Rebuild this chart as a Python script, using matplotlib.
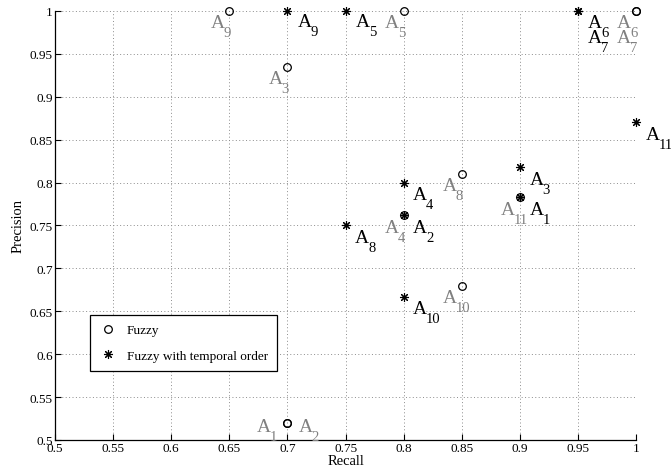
import numpy as np
import matplotlib.pyplot as plt

plt.rcParams['font.family'] = ['Liberation Serif', 'DejaVu Serif']

names = ['A1', 'A2', 'A3', 'A4', 'A5', 'A6', 'A7', 'A8', 'A9', 'A10', 'A11']

fuzzy_recall = [0.7, 0.7, 0.7, 0.8, 0.8, 1.0, 1.0, 0.85, 0.65, 0.85, 0.9]
fuzzy_precision = [0.52, 0.52, 0.935, 0.762, 1.0, 1.0, 1.0, 0.81, 1.0, 0.68, 0.783]

temporal_recall = [0.9, 0.8, 0.9, 0.8, 0.75, 0.95, 0.95, 0.75, 0.7, 0.8, 1.0]
temporal_precision = [0.783, 0.762, 0.818, 0.8, 1.0, 1.0, 1.0, 0.75, 1.0, 0.667, 0.87]

xticks = [0.5, 0.55, 0.6, 0.65, 0.7, 0.75, 0.8, 0.85, 0.9, 0.95, 1]
yticks = [0.5, 0.55, 0.6, 0.65, 0.7, 0.75, 0.8, 0.85, 0.9, 0.95, 1]

fig = plt.figure(figsize=(6.71, 4.77), dpi=100)
ax = fig.add_axes([0.082, 0.0755, 0.866, 0.8995])

star = (8, 2, 0)
ax.plot(fuzzy_recall, fuzzy_precision, 'o', mfc='none', mec='k', ms=5.5, mew=0.9,
        ls='none', label='Fuzzy', clip_on=False, zorder=3)
ax.plot(temporal_recall, temporal_precision, marker=star, color='k', ms=6.5, mew=0.8,
        ls='none', label='Fuzzy with temporal order', clip_on=False, zorder=3)


def label(txt, x, y, dx, dy, color):
    # dx, dy in pixels, dy = top of the A below the point
    k = 0.72
    ax.annotate('A', (x, y), xytext=(dx * k, -(dy + 13) * k), textcoords='offset points',
                ha='left', va='baseline', fontsize=14, color=color, annotation_clip=False)
    ax.annotate(txt[1:], (x, y), xytext=((dx + 13) * k, -(dy + 22) * k),
                textcoords='offset points', ha='left', va='baseline', fontsize=10.5,
                color=color, annotation_clip=False)


# grey labels for the fuzzy points
gray_off = {'A1': (-31, -5), 'A2': (11, -5), 'A7': (-19, 18)}
for n, x, y in zip(names, fuzzy_recall, fuzzy_precision):
    dx, dy = gray_off.get(n, (-19, 3.5))
    label(n, x, y, dx, dy, '0.5')

# black labels for temporal order points
black_off = {'A7': (10, 18), 'A9': (10, 2), 'A5': (10, 2), 'A6': (10, 3)}
for n, x, y in zip(names, temporal_recall, temporal_precision):
    dx, dy = black_off.get(n, (9.5, 3.5))
    label(n, x, y, dx, dy, 'k')

ax.set_xlim(0.5, 1)
ax.set_ylim(0.5, 1)
ax.set_xticks(xticks)
ax.set_yticks(yticks)
ax.set_xticklabels([('%g' % v) for v in xticks])
ax.set_yticklabels([('%g' % v) for v in yticks])
ax.tick_params(direction='in', length=4, width=0.8, labelsize=9.5, pad=1.5)
ax.grid(True, color='0.55', linestyle=(0, (1, 2.5)), linewidth=0.7)
ax.spines['top'].set_visible(False)
ax.spines['right'].set_visible(False)
ax.spines['left'].set_linewidth(0.9)
ax.spines['bottom'].set_linewidth(0.9)

ax.set_xlabel('Recall', fontsize=10.5, labelpad=0)
ax.set_ylabel('Precision', fontsize=10.5, labelpad=4)

leg = ax.legend(loc='lower left', bbox_to_anchor=(0.06, 0.161), fontsize=9.5,
                fancybox=False, edgecolor='k', framealpha=1, borderpad=0.7,
                labelspacing=1.0, handletextpad=0.75, handlelength=1.35,
                borderaxespad=0)
leg.get_frame().set_linewidth(0.9)

fig.savefig('out.png', dpi=100)
